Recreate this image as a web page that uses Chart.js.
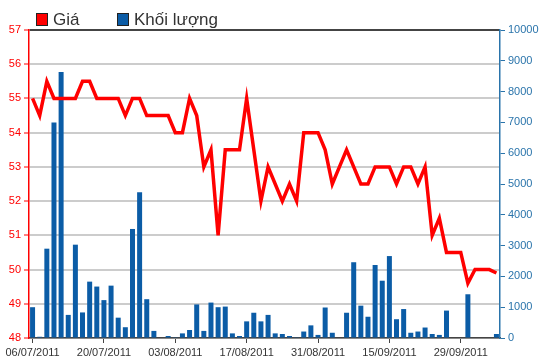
<!DOCTYPE html>
<html>
<head>
<meta charset="utf-8">
<script src="https://cdn.jsdelivr.net/npm/chart.js@4.4.0/dist/chart.umd.min.js"></script>
<style>
  html, body { margin: 0; padding: 0; background: #fff; }
</style>
</head>
<body>
<canvas id="chart" width="550" height="364"></canvas>
<script>
const DATES = [
  `06/07/2011`, `07/07/2011`, `08/07/2011`, `11/07/2011`, `12/07/2011`, `13/07/2011`, `14/07/2011`, `15/07/2011`,
  `18/07/2011`, `19/07/2011`, `20/07/2011`, `21/07/2011`, `22/07/2011`, `25/07/2011`, `26/07/2011`, `27/07/2011`,
  `28/07/2011`, `29/07/2011`, `01/08/2011`, `02/08/2011`, `03/08/2011`, `04/08/2011`, `05/08/2011`, `08/08/2011`,
  `09/08/2011`, `10/08/2011`, `11/08/2011`, `12/08/2011`, `15/08/2011`, `16/08/2011`, `17/08/2011`, `18/08/2011`,
  `19/08/2011`, `22/08/2011`, `23/08/2011`, `24/08/2011`, `25/08/2011`, `26/08/2011`, `29/08/2011`, `30/08/2011`,
  `31/08/2011`, `01/09/2011`, `05/09/2011`, `06/09/2011`, `07/09/2011`, `08/09/2011`, `09/09/2011`, `12/09/2011`,
  `13/09/2011`, `14/09/2011`, `15/09/2011`, `16/09/2011`, `19/09/2011`, `20/09/2011`, `21/09/2011`, `22/09/2011`,
  `23/09/2011`, `26/09/2011`, `27/09/2011`, `28/09/2011`, `29/09/2011`, `30/09/2011`, `03/10/2011`, `04/10/2011`,
  `05/10/2011`, `06/10/2011`
];

const PRICES = [
  55.0, 54.5, 55.5, 55.0, 55.0, 55.0, 55.0, 55.5, 55.5, 55.0,
  55.0, 55.0, 55.0, 54.5, 55.0, 55.0, 54.5, 54.5, 54.5, 54.5,
  54.0, 54.0, 55.0, 54.5, 53.0, 53.5, 51.0, 53.5, 53.5, 53.5,
  55.0, 53.5, 52.0, 53.0, 52.5, 52.0, 52.5, 52.0, 54.0, 54.0,
  54.0, 53.5, 52.5, 53.0, 53.5, 53.0, 52.5, 52.5, 53.0, 53.0,
  53.0, 52.5, 53.0, 53.0, 52.5, 53.0, 51.0, 51.5, 50.5, 50.5,
  50.5, 49.6, 50.0, 50.0, 50.0, 49.9
];

const VOLUMES = [
  1000, 40, 2900, 7000, 8640, 750, 3030, 830, 1830, 1670,
  1230, 1700, 660, 350, 3540, 4730, 1260, 230, 0, 65,
  25, 150, 260, 1090, 230, 1150, 1000, 1020, 150, 65,
  540, 820, 540, 750, 150, 130, 65, 25, 210, 410,
  100, 990, 170, 0, 820, 2460, 1050, 690, 2370, 1860,
  2660, 610, 940, 170, 210, 340, 130, 100, 890, 0,
  0, 1420, 0, 0, 0, 130
];

const SERIES_NAMES = [`Giá`, `Khối lượng`];
const LABEL_EVERY = 10;

const RED = `#ff0000`;
const BLUE = `#0b5ca6`;
const AXIS_BLUE = `#2a74ab`;
const FONT = `"Liberation Sans", Arial, sans-serif`;

const legendPlugin = {
  id: `topLegend`,
  afterDraw(chart) {
    const ctx = chart.ctx;
    ctx.save();
    ctx.font = `17px ${FONT}`;
    ctx.textBaseline = `middle`;
    let x = 36;
    chart.data.datasets.forEach((ds) => {
      ctx.fillStyle = ds.legendColor;
      ctx.fillRect(x, 13, 11, 12);
      ctx.strokeStyle = `#222222`;
      ctx.lineWidth = 1;
      ctx.strokeRect(x + 0.5, 13.5, 11, 12);
      ctx.fillStyle = `#333333`;
      ctx.fillText(ds.label, x + 17, 20);
      x += 81;
    });
    ctx.restore();
  }
};

new Chart(document.getElementById(`chart`), {
  type: `bar`,
  plugins: [legendPlugin],
  data: {
    labels: DATES,
    datasets: [
      {
        type: `line`,
        label: SERIES_NAMES[0],
        legendColor: RED,
        data: PRICES,
        yAxisID: `y`,
        borderColor: RED,
        borderWidth: 3.5,
        pointRadius: 0,
        tension: 0,
        order: 0
      },
      {
        type: `bar`,
        label: SERIES_NAMES[1],
        legendColor: BLUE,
        data: VOLUMES,
        yAxisID: `y1`,
        backgroundColor: BLUE,
        categoryPercentage: 1,
        barPercentage: 0.7,
        order: 1
      }
    ]
  },
  options: {
    responsive: false,
    animation: false,
    devicePixelRatio: 1,
    layout: {
      padding: {top: 30, left: 0, right: 0, bottom: 0}
    },
    plugins: {
      legend: {display: false},
      tooltip: {enabled: false}
    },
    scales: {
      x: {
        offset: true,
        afterFit: (scale) => {
          scale.height = 26;
        },
        border: {color: `#444444`, width: 1.5},
        grid: {
          offset: false,
          drawOnChartArea: false,
          tickLength: 5,
          tickWidth: 1,
          tickColor: (ctx) => (ctx.index % LABEL_EVERY === 0 ? `#444444` : `rgba(0,0,0,0)`)
        },
        ticks: {
          autoSkip: false,
          maxRotation: 0,
          padding: 3,
          color: `#333333`,
          font: {family: FONT, size: 11},
          callback: (value, index) => (index % LABEL_EVERY === 0 ? DATES[index] : ``)
        }
      },
      y: {
        position: `left`,
        min: 48,
        max: 57,
        afterFit: (scale) => {
          scale.width = 29;
        },
        border: {color: RED, width: 1.5},
        grid: {
          color: (ctx) => (ctx.tick && ctx.tick.value === 57 ? `#444444` : `#cccccc`),
          lineWidth: 2,
          tickLength: 5,
          tickWidth: 1,
          tickColor: RED
        },
        ticks: {
          stepSize: 1,
          padding: 3,
          color: RED,
          font: {family: FONT, size: 11}
        }
      },
      y1: {
        position: `right`,
        min: 0,
        max: 10000,
        afterFit: (scale) => {
          scale.width = 50;
        },
        border: {color: AXIS_BLUE, width: 1.5},
        grid: {
          drawOnChartArea: false,
          tickLength: 5,
          tickWidth: 1,
          tickColor: AXIS_BLUE
        },
        ticks: {
          stepSize: 1000,
          padding: 3,
          color: AXIS_BLUE,
          font: {family: FONT, size: 11},
          callback: (value) => String(value)
        }
      }
    }
  }
});
</script>
</body>
</html>
